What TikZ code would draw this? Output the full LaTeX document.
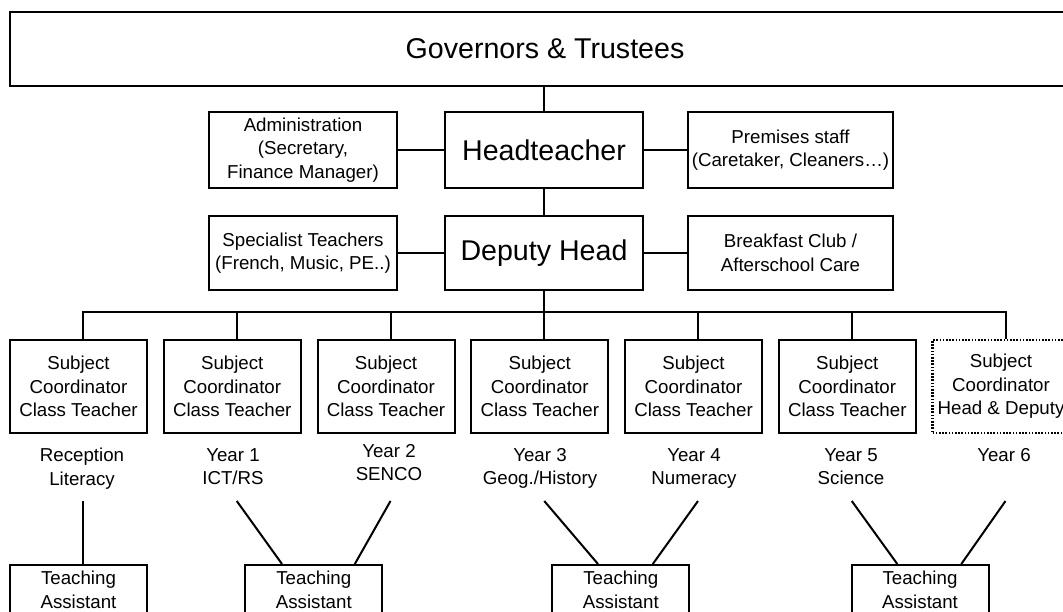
\documentclass[tikz,border=0pt]{standalone}
\usepackage{fontspec}
\setmainfont{Liberation Sans}

\begin{document}
\begin{tikzpicture}[x=1pt,y=1pt,yscale=-1,
        box/.style={draw, line width=2pt, rectangle, align=center, inner sep=0pt},
        big/.style={font=\fontsize{28.6}{34}\selectfont},
        small/.style={font=\fontsize{18.7}{23.5}\selectfont},
        link/.style={line width=2pt}]
        \useasboundingbox (0,0) rectangle (1063,611);

        %Shape: Rectangle (top board, runs off the right side)
        \node [box, big, line width=2.4pt, minimum width=1070, minimum height=74] (gov) at (545,49) {Governors \& Trustees};

        %Shape: Rectangle (head row)
        \node [box, big, minimum width=198, minimum height=76] (head) at (544,150) {Headteacher};
        \node [box, small, minimum width=188, minimum height=76] (admin) at (303,150) {Administration\\(Secretary,\\Finance Manager)};
        \node [box, small, minimum width=205, minimum height=76] (prem) at (790.5,150) {Premises staff\\(Caretaker, Cleaners…)};

        %Shape: Rectangle (deputy row)
        \node [box, small, minimum width=188, minimum height=74] (spec) at (303,253) {Specialist Teachers\\(French, Music, PE..)};
        \node [box, big, minimum width=198, minimum height=74] (deputy) at (544,253) {Deputy Head};
        \node [box, small, minimum width=205, minimum height=74] (club) at (790.5,253) {Breakfast Club /\\Afterschool Care};

        %Straight Lines
        \draw [link] (head.north) -- (head.north |- gov.south);
        \draw [link] (admin) -- (head);
        \draw [link] (head) -- (prem);
        \draw [link] (head) -- (deputy);
        \draw [link] (spec) -- (deputy);
        \draw [link] (deputy) -- (club);

        %Shape: Rectangle (year teachers)
        \foreach \i in {1,...,6}
            \node [box, small, minimum width=137, minimum height=93] (sc\i) at ({78.5+153.75*(\i-1)},386.5) {Subject\\Coordinator\\Class Teacher};
        \node [box, small, line width=2.6pt, dash pattern={on 1.6pt off 1.6pt}, minimum width=137, minimum height=93] (sc7) at (1001,386.5) {Subject\\Coordinator\\Head \& Deputy};

        %Straight Lines (bus under the deputy)
        \coordinate (bus) at (deputy.south |- 0,312);
        \draw [link] (deputy) -- (bus);
        \draw [link] ([xshift=4.5]sc1.north) |- (bus) -| ([xshift=4.5]sc7.north);
        \foreach \i in {2,3,5,6}
            \draw [link] ([xshift=4.5]sc\i.north) -- ([xshift=4.5]sc\i.north |- bus);
        \draw [link] (bus) -- (bus |- sc4.north);

        % Text Node
        \node [small, align=center, anchor=north, inner sep=0pt] (yr1) at (82,448) {Reception\\Literacy};
        % Text Node
        \node [small, align=center, anchor=north, inner sep=0pt] (yr2) at (233,448) {Year 1\\ICT/RS};
        % Text Node
        \node [small, align=center, anchor=north, inner sep=0pt] (yr3) at (389,444) {Year 2\\SENCO};
        % Text Node
        \node [small, align=center, anchor=north, inner sep=0pt] (yr4) at (540,448) {Year 3\\Geog./History};
        % Text Node
        \node [small, align=center, anchor=north, inner sep=0pt] (yr5) at (694,448) {Year 4\\Numeracy};
        % Text Node
        \node [small, align=center, anchor=north, inner sep=0pt] (yr6) at (851,448) {Year 5\\Science};
        % Text Node
        \node [small, align=center, anchor=north, inner sep=0pt] (yr7) at (1004,448) {Year 6};

        %Shape: Rectangle (assistants, cut at the bottom)
        \node [box, small, minimum width=137, minimum height=50] (ta1) at (78.5,590) {Teaching\\Assistant};
        \node [box, small, minimum width=137, minimum height=50] (ta2) at (313.8,590) {Teaching\\Assistant};
        \node [box, small, minimum width=137, minimum height=50] (ta3) at (620.8,590) {Teaching\\Assistant};
        \node [box, small, minimum width=137, minimum height=50] (ta4) at (920,590) {Teaching\\Assistant};

        %Straight Lines (year to assistant)
        \foreach \i in {1,...,7}
            \coordinate (l\i) at ({83+153.75*(\i-1)},501);
        \draw [link] (l1) -- ([xshift=4.5]ta1.north);
        \draw [link] (l2) -- ([xshift=-31.8]ta2.north);
        \draw [link] (l3) -- ([xshift=41]ta2.north);
        \draw [link] (l4) -- ([xshift=-22.8]ta3.north);
        \draw [link] (l5) -- ([xshift=32]ta3.north);
        \draw [link] (l6) -- ([xshift=-22.7]ta4.north);
        \draw [link] (l7) -- ([xshift=41.3]ta4.north);

\end{tikzpicture}
\end{document}
